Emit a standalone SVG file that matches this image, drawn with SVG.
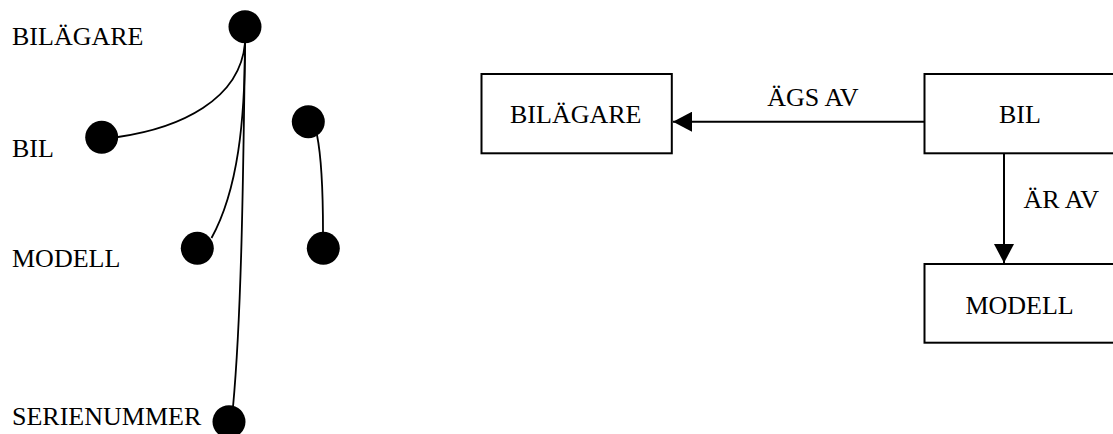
<svg xmlns="http://www.w3.org/2000/svg" width="1113" height="434" viewBox="0 0 1113 434">
<style>
text{font-family:"Liberation Serif","Times New Roman",serif;font-size:26px;fill:#000}
.dot{fill:#000}
.box{fill:#fff;stroke:#000;stroke-width:2}
.ln{fill:none;stroke:#000;stroke-width:1.8}
.ar{fill:none;stroke:#000;stroke-width:2}
</style>
<defs>
<marker id="arr" markerUnits="userSpaceOnUse" markerWidth="19" markerHeight="20" refX="19" refY="10" orient="auto">
<path d="M0,0 L19,10 L0,20 z" fill="#000"/>
</marker>
</defs>
<rect width="1113" height="434" fill="#fff"/>
<g id="labels-left">
<text x="12" y="45">BILÄGARE</text>
<text x="12" y="157">BIL</text>
<text x="12" y="267">MODELL</text>
<text x="12" y="425">SERIENUMMER</text>
</g>
<g id="connectors">
<path class="ln" d="M245,43 C240,100 180,128 118,137"/>
<path class="ln" d="M245,43 C245,120 238,190 211.5,238"/>
<path class="ln" d="M245,43 C243,200 241,320 233,407"/>
<path class="ln" d="M317,135 C322,160 323,190 323,232"/>
<line class="ar" x1="924.5" y1="121.7" x2="673" y2="121.7" marker-end="url(#arr)"/>
<line class="ar" x1="1004" y1="153.5" x2="1004" y2="263" marker-end="url(#arr)"/>
</g>
<g id="dot-bilagare"><circle class="dot" cx="245" cy="26.7" r="16.5"/></g>
<g id="dot-bil"><circle class="dot" cx="101.7" cy="137.3" r="16.5"/></g>
<g id="dot-modell"><circle class="dot" cx="197.3" cy="248.3" r="16.5"/></g>
<g id="dot-serienummer"><circle class="dot" cx="229" cy="421.7" r="16.5"/></g>
<g id="dot-right-top"><circle class="dot" cx="308.3" cy="121.7" r="16.5"/></g>
<g id="dot-right-bottom"><circle class="dot" cx="323.3" cy="248.3" r="16.5"/></g>
<g id="node-bilagare">
<rect class="box" x="481.5" y="74" width="190.3" height="79.3"/>
<text x="510" y="123.3">BILÄGARE</text>
</g>
<g id="node-bil">
<rect class="box" x="924.5" y="74" width="200" height="79.3"/>
<text x="999" y="123.3">BIL</text>
</g>
<g id="node-modell">
<rect class="box" x="924.5" y="264" width="200" height="78.7"/>
<text x="965.4" y="314">MODELL</text>
</g>
<g id="edge-labels">
<text x="767.3" y="105.7">ÄGS AV</text>
<text x="1023.6" y="208.3">ÄR AV</text>
</g>
</svg>
